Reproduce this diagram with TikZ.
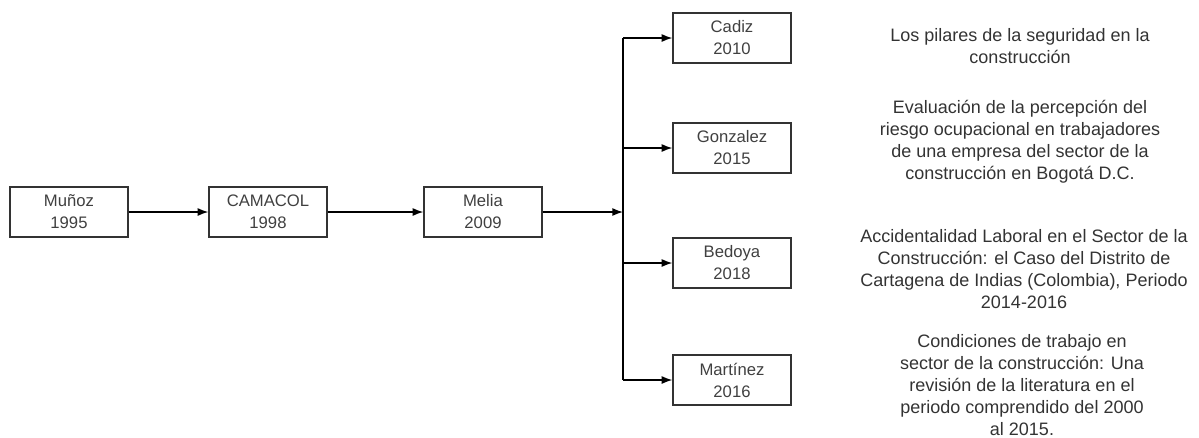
\documentclass[tikz,border=0pt]{standalone}
\usepackage{fontspec}
\setmainfont{Liberation Sans}
\usetikzlibrary{positioning,arrows.meta}

\begin{document}
\begin{tikzpicture}[x=0.75pt,y=-0.75pt,>={Latex[length=8pt,width=6pt]},line width=1pt]
  \tikzstyle{box}=[draw=black!80, minimum width=88.5pt, minimum height=37.5pt,
    align=center, inner sep=1pt, font=\fontsize{12.5}{16.5}\selectfont, text=black!75]
  \tikzstyle{title}=[align=center, inner sep=0pt, font=\fontsize{13.5}{16.5}\selectfont, text=black!80]

  \useasboundingbox (0,0) rectangle (1199,437);

  % chain on the left
  \node[box] (munoz) at (69,212) {Muñoz\\1995};
  \node[box] (camacol) at (268,212) {CAMACOL\\1998};
  \node[box] (melia) at (483,212) {Melia\\2009};

  % studies on the right
  \node[box] (cadiz) at (732,38) {Cadiz\\2010};
  \node[box] (gonzalez) at (732,148) {Gonzalez\\2015};
  \node[box] (bedoya) at (732,263) {Bedoya\\2018};
  \node[box] (martinez) at (732,380) {Martínez\\2016};

  \coordinate (split) at (623,212);

  \node[title] (t1) at (1020,46) {Los pilares de la seguridad en la\\construcción};
  \node[title] (t2) at (1020,142) {Evaluación de la percepción del\\riesgo ocupacional en trabajadores\\de una empresa del sector de la\\construcción en Bogotá D.C.};
  \node[title] (t3) at (1024,269) {Accidentalidad Laboral en el Sector de la\\Construcción: el Caso del Distrito de\\Cartagena de Indias (Colombia), Periodo\\2014-2016};
  \node[title] (t4) at (1022,385) {Condiciones de trabajo en\\sector de la construcción: Una\\revisión de la literatura en el\\periodo comprendido del 2000\\al 2015.};

  \draw[->] (munoz) -- (camacol);
  \draw[->] (camacol) -- (melia);
  \draw[->] (melia.east) -- (split);
  \draw (split |- cadiz.west) -- (split |- martinez.west);
  \draw[->] (split |- cadiz.west) -- (cadiz.west);
  \draw[->] (split |- gonzalez.west) -- (gonzalez.west);
  \draw[->] (split |- bedoya.west) -- (bedoya.west);
  \draw[->] (split |- martinez.west) -- (martinez.west);
\end{tikzpicture}
\end{document}
